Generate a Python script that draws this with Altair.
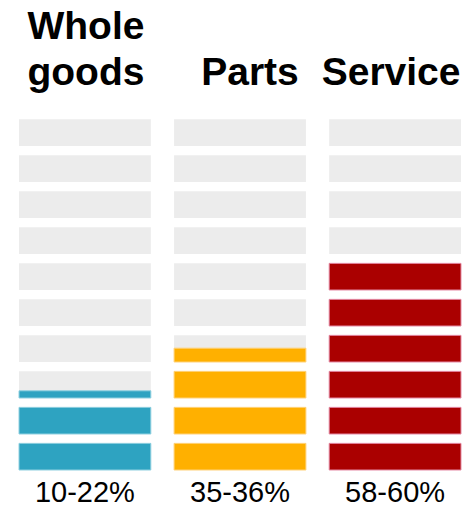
import altair as alt
import pandas as pd

# Categories and data
categories = ["Whole goods", "Parts", "Service"]
title_line1 = ["Whole", "", ""]
title_line2 = ["goods", "Parts", "Service"]
range_labels = ["10-22%", "35-36%", "58-60%"]
fill_pct = [22.7, 35.2, 60.0]   # fill level shown (percent, 10 blocks of 10%)
colors = ["#2ea3c1", "#ffb000", "#aa0000"]
strokes = ["#8fd0e0", "#ffd27a", "#e58aa5"]
n_blocks = 10
bar_ratio = 0.74  # bar thickness relative to block pitch

bg_rows, fill_rows = [], []
for cat, pct in zip(categories, fill_pct):
    for i in range(n_blocks):
        bg_rows.append({"cat": cat, "y": i, "y2": i + bar_ratio})
        frac = min(max(pct / 10 - i, 0), 1)
        if frac > 0:
            fill_rows.append({"cat": cat, "y": i, "y2": i + bar_ratio * frac})
bg = pd.DataFrame(bg_rows)
fl = pd.DataFrame(fill_rows)
labels = pd.DataFrame({"cat": categories, "l1": title_line1, "l2": title_line2, "r": range_labels})

xenc = alt.X("cat:N", scale=alt.Scale(domain=categories, paddingInner=0.15, paddingOuter=0), axis=None)
yscale = alt.Scale(domain=[0, n_blocks], range=[462, 102])

gray = alt.Chart(bg).mark_bar(color="#ececec").encode(
    x=xenc,
    y=alt.Y("y:Q", scale=yscale, axis=None),
    y2="y2:Q",
)
fill = alt.Chart(fl).mark_bar(strokeWidth=1).encode(
    x=xenc,
    y=alt.Y("y:Q", scale=yscale, axis=None),
    y2="y2:Q",
    color=alt.Color("cat:N", scale=alt.Scale(domain=categories, range=colors), legend=None),
    stroke=alt.Stroke("cat:N", scale=alt.Scale(domain=categories, range=strokes), legend=None),
)

font = "Liberation Sans"
tsize = 39
def title_text(df, field, ypx, dx):
    return alt.Chart(df).mark_text(font=font, fontSize=tsize, fontWeight="bold",
                                   baseline="alphabetic", dx=dx, color="#000").encode(
        x=xenc, y=alt.value(ypx), text=f"{field}:N")

t1 = title_text(labels[labels.cat == "Whole goods"], "l1", 31, 1)
t2a = title_text(labels[labels.cat == "Whole goods"], "l2", 77, 1)
t2b = title_text(labels[labels.cat == "Parts"], "l2", 77, 10)
t2c = title_text(labels[labels.cat == "Service"], "l2", 77, -4)
bottom = alt.Chart(labels).mark_text(font=font, fontSize=29, baseline="alphabetic", color="#000").encode(
    x=xenc, y=alt.value(494), text="r:N")

chart = alt.layer(gray, fill, t1, t2a, t2b, t2c, bottom).properties(
    width=442, height=495,
    padding={"left": 11, "right": 1, "top": 0, "bottom": 0},
    autosize=alt.AutoSizeParams(type="none"),
    background="white",
).configure_view(strokeWidth=0)

chart.save("out.html", embed_options={"renderer": "svg", "actions": False})
